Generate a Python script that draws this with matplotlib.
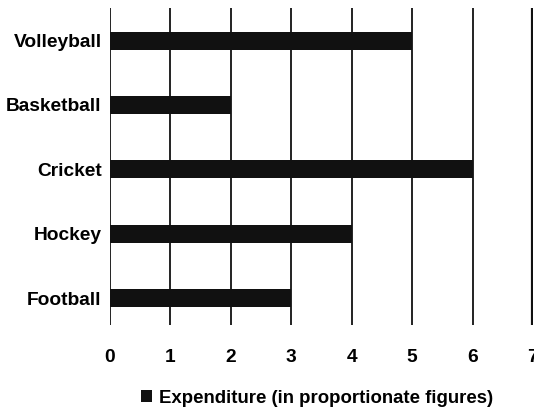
import matplotlib.pyplot as plt
import numpy as np

# data
sports = ['Football', 'Hockey', 'Cricket', 'Basketball', 'Volleyball']
expenditure = [3, 4, 6, 2, 5]
xticks = [0, 1, 2, 3, 4, 5, 6, 7]
legend_label = 'Expenditure (in proportionate figures)'

plt.rcParams['font.family'] = ['Liberation Sans', 'DejaVu Sans']
plt.rcParams['font.weight'] = 'bold'

fig = plt.figure(figsize=(5.34, 4.13), dpi=100)
ax = fig.add_axes([0.206, 0.213, 0.792, 0.768])

ypos = np.arange(len(sports))
ax.barh(ypos, expenditure, height=0.28, color='#111111', label=legend_label, zorder=3)

# vertical grid lines at each unit
for x in xticks[:-1]:
    ax.axvline(x, color='#222222', linewidth=1.4, zorder=2)
ax.axvline(xticks[-1], color='#111111', linewidth=3, zorder=2)

ax.set_xlim(0, 7)
ax.set_ylim(-0.42, 4.51)
ax.set_yticks(ypos)
ax.set_yticklabels(sports, fontsize=13.8)
ax.set_xticks(xticks)
ax.set_xticklabels([str(x) for x in xticks], fontsize=13.8)
ax.tick_params(axis='y', length=0, pad=6)
ax.tick_params(axis='x', length=0, pad=17)
for s in ax.spines.values():
    s.set_visible(False)

leg = fig.legend(loc='center', bbox_to_anchor=(0.594, 0.036), frameon=False,
                 fontsize=13.4, handlelength=0.6, handleheight=0.6, handletextpad=0.4)

plt.savefig('out.png', dpi=100)
